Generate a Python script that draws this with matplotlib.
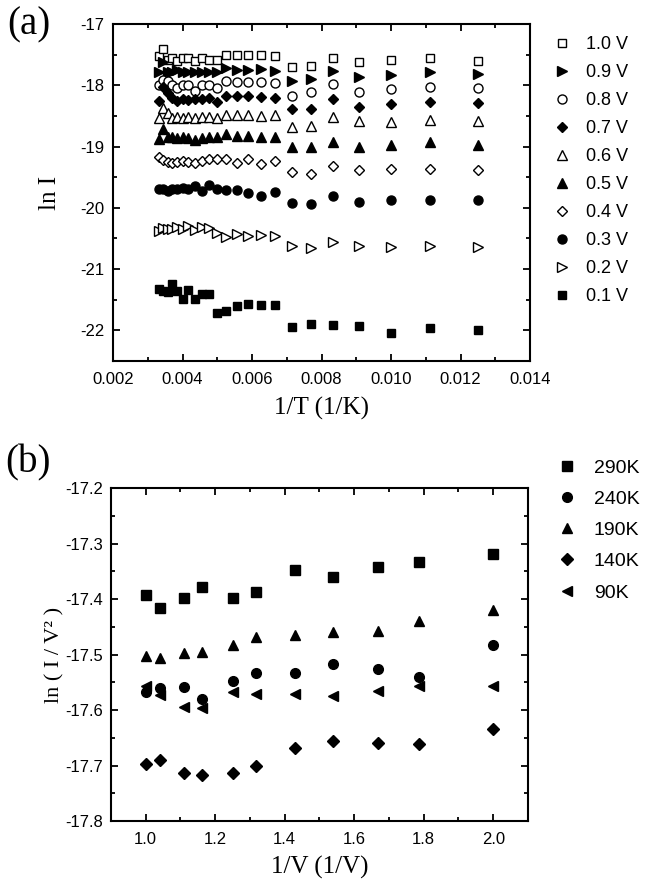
import matplotlib
matplotlib.use("Agg")
import matplotlib.pyplot as plt
from matplotlib.ticker import MultipleLocator, FormatStrFormatter

plt.rcParams["axes.unicode_minus"] = False
plt.rcParams["font.family"] = ["Liberation Sans", "DejaVu Sans"]

# ---- panel (a): ln I vs 1/T, one series per bias voltage ----
inv_temp = [0.00333, 0.00345, 0.00357, 0.00370, 0.00385, 0.00400, 0.00417, 0.00435,
            0.00455, 0.00476, 0.00500, 0.00526, 0.00556, 0.00588, 0.00625, 0.00667,
            0.00714, 0.00769, 0.00833, 0.00909, 0.01000, 0.01111, 0.01250]

v10 = [-17.52, -17.40, -17.59, -17.56, -17.61, -17.55, -17.56, -17.60, -17.56, -17.59, -17.59, -17.50,
       -17.50, -17.50, -17.50, -17.53, -17.70, -17.68, -17.55, -17.62, -17.59, -17.56, -17.61]
v09 = [-17.78, -17.62, -17.78, -17.78, -17.75, -17.79, -17.78, -17.78, -17.79, -17.78, -17.79, -17.72,
       -17.75, -17.75, -17.73, -17.76, -17.93, -17.89, -17.77, -17.86, -17.84, -17.79, -17.81]
v08 = [-17.99, -17.92, -17.93, -18.00, -18.05, -17.99, -18.00, -18.09, -17.99, -17.99, -18.04, -17.93,
       -17.95, -17.95, -17.95, -17.97, -18.17, -18.11, -17.98, -18.11, -18.06, -18.03, -18.04]
v07 = [-18.25, -18.03, -18.13, -18.21, -18.26, -18.22, -18.24, -18.23, -18.22, -18.21, -18.27, -18.18,
       -18.18, -18.18, -18.19, -18.21, -18.38, -18.38, -18.22, -18.36, -18.30, -18.28, -18.29]
v06 = [-18.54, -18.37, -18.45, -18.54, -18.51, -18.54, -18.52, -18.54, -18.51, -18.52, -18.54, -18.48,
       -18.48, -18.48, -18.50, -18.48, -18.68, -18.67, -18.52, -18.59, -18.60, -18.57, -18.59]
v05 = [-18.88, -18.71, -18.84, -18.85, -18.86, -18.84, -18.86, -18.89, -18.86, -18.84, -18.84, -18.80,
       -18.82, -18.82, -18.84, -18.85, -19.01, -19.00, -18.93, -19.00, -18.97, -18.93, -18.98]
v04 = [-19.17, -19.22, -19.25, -19.27, -19.25, -19.24, -19.26, -19.27, -19.24, -19.21, -19.20, -19.20,
       -19.27, -19.21, -19.28, -19.24, -19.41, -19.44, -19.32, -19.38, -19.37, -19.37, -19.38]
v03 = [-19.70, -19.69, -19.73, -19.70, -19.69, -19.68, -19.69, -19.65, -19.73, -19.63, -19.70, -19.71,
       -19.71, -19.75, -19.81, -19.74, -19.92, -19.94, -19.81, -19.90, -19.87, -19.87, -19.88]
v02 = [-20.38, -20.33, -20.35, -20.34, -20.32, -20.34, -20.29, -20.37, -20.31, -20.33, -20.41, -20.47,
       -20.43, -20.46, -20.44, -20.46, -20.63, -20.65, -20.55, -20.63, -20.64, -20.63, -20.64]
v01 = [-21.32, -21.36, -21.38, -21.24, -21.36, -21.48, -21.34, -21.48, -21.40, -21.40, -21.72, -21.69,
       -21.60, -21.57, -21.58, -21.59, -21.94, -21.90, -21.92, -21.93, -22.05, -21.96, -21.99]

volt_labels = ["1.0 V", "0.9 V", "0.8 V", "0.7 V", "0.6 V", "0.5 V", "0.4 V", "0.3 V", "0.2 V", "0.1 V"]

# ---- panel (b): ln(I/V^2) vs 1/V, one series per temperature ----
inv_volt = [1.000, 1.042, 1.111, 1.163, 1.250, 1.316, 1.429, 1.538, 1.667, 1.786, 2.000]

t290 = [-17.393, -17.416, -17.399, -17.378, -17.399, -17.387, -17.348, -17.360, -17.342, -17.333, -17.319]
t240 = [-17.567, -17.561, -17.559, -17.580, -17.547, -17.533, -17.533, -17.518, -17.527, -17.541, -17.483]
t190 = [-17.503, -17.507, -17.497, -17.496, -17.483, -17.468, -17.465, -17.459, -17.458, -17.440, -17.420]
t140 = [-17.697, -17.690, -17.713, -17.717, -17.713, -17.701, -17.668, -17.656, -17.660, -17.662, -17.634]
t90 = [-17.557, -17.573, -17.594, -17.597, -17.568, -17.572, -17.571, -17.575, -17.565, -17.557, -17.557]

temp_labels = ["290K", "240K", "190K", "140K", "90K"]

SERIF = ["Liberation Serif", "DejaVu Serif"]


def style_axes(ax):
    for side in ax.spines.values():
        side.set_linewidth(1.5)
    ax.tick_params(which="both", direction="in", top=True, right=True, width=1.3, labelsize=12)
    ax.tick_params(which="major", length=5)
    ax.tick_params(which="minor", length=3)
    ax.tick_params(axis="x", pad=8)
    ax.tick_params(axis="y", pad=6)


fig = plt.figure(figsize=(6.69, 8.88), dpi=100)

ax_a = fig.add_axes([113 / 669, 1 - 361 / 888, 417 / 669, 337 / 888])
series_a = [v10, v09, v08, v07, v06, v05, v04, v03, v02, v01]
markers_a = ["s", ">", "o", "D", "^", "^", "D", "o", ">", "s"]
filled_a = [False, True, False, True, False, True, False, True, False, True]
sizes_a = [6, 6.5, 6.5, 5.5, 6.5, 6.5, 5.5, 6.5, 6.5, 6]
handles_a = []
for vals, mk, fill, ms, lab in zip(series_a, markers_a, filled_a, sizes_a, volt_labels):
    h, = ax_a.plot(inv_temp, vals, linestyle="none", marker=mk, markersize=ms,
                   markerfacecolor="black" if fill else "white", markeredgecolor="black",
                   markeredgewidth=1.0, label=lab)
    handles_a.append(h)

ax_a.set_xlim(0.002, 0.014)
ax_a.set_ylim(-22.5, -17)
ax_a.xaxis.set_major_locator(MultipleLocator(0.002))
ax_a.xaxis.set_minor_locator(MultipleLocator(0.001))
ax_a.yaxis.set_major_locator(MultipleLocator(1))
ax_a.yaxis.set_minor_locator(MultipleLocator(0.5))
ax_a.xaxis.set_major_formatter(FormatStrFormatter("%.3f"))
ax_a.yaxis.set_major_formatter(FormatStrFormatter("%d"))
style_axes(ax_a)
ax_a.set_xlabel("1/T (1/K)", family=SERIF, fontsize=18, labelpad=7)
ax_a.set_ylabel("ln I", family=SERIF, fontsize=18, labelpad=14)
ax_a.legend(handles=handles_a, loc="upper left", bbox_to_anchor=(553 / 669, 1 - 36 / 888),
            bbox_transform=fig.transFigure, frameon=False, fontsize=13,
            handlelength=1.0, handletextpad=0.8, labelspacing=0.61, borderpad=0, borderaxespad=0)
fig.text(7 / 669, 1 - 25 / 888, "(a)", family=SERIF, fontsize=28, va="center", ha="left")

ax_b = fig.add_axes([111 / 669, 1 - 821 / 888, 417 / 669, 333 / 888])
series_b = [t290, t240, t190, t140, t90]
markers_b = ["s", "o", "^", "D", "<"]
sizes_b = [6.5, 7, 7, 6, 7]
handles_b = []
for vals, mk, ms, lab in zip(series_b, markers_b, sizes_b, temp_labels):
    h, = ax_b.plot(inv_volt, vals, linestyle="none", marker=mk, markersize=ms,
                   color="black", label=lab)
    handles_b.append(h)

ax_b.set_xlim(0.9, 2.1)
ax_b.set_ylim(-17.8, -17.2)
ax_b.xaxis.set_major_locator(MultipleLocator(0.2))
ax_b.xaxis.set_minor_locator(MultipleLocator(0.1))
ax_b.yaxis.set_major_locator(MultipleLocator(0.1))
ax_b.yaxis.set_minor_locator(MultipleLocator(0.05))
ax_b.xaxis.set_major_formatter(FormatStrFormatter("%.1f"))
ax_b.yaxis.set_major_formatter(FormatStrFormatter("%.1f"))
style_axes(ax_b)
ax_b.set_xlabel("1/V (1/V)", family=SERIF, fontsize=18, labelpad=6)
ax_b.set_ylabel("ln ( I / V² )", family=SERIF, fontsize=16, labelpad=0)
ax_b.legend(handles=handles_b, loc="upper left", bbox_to_anchor=(557 / 669, 1 - 459 / 888),
            bbox_transform=fig.transFigure, frameon=False, fontsize=14,
            handlelength=1.0, handletextpad=0.9, labelspacing=0.70, borderpad=0, borderaxespad=0)
fig.text(5 / 669, 1 - 463 / 888, "(b)", family=SERIF, fontsize=28, va="center", ha="left")

fig.savefig("out.png", dpi=100)
